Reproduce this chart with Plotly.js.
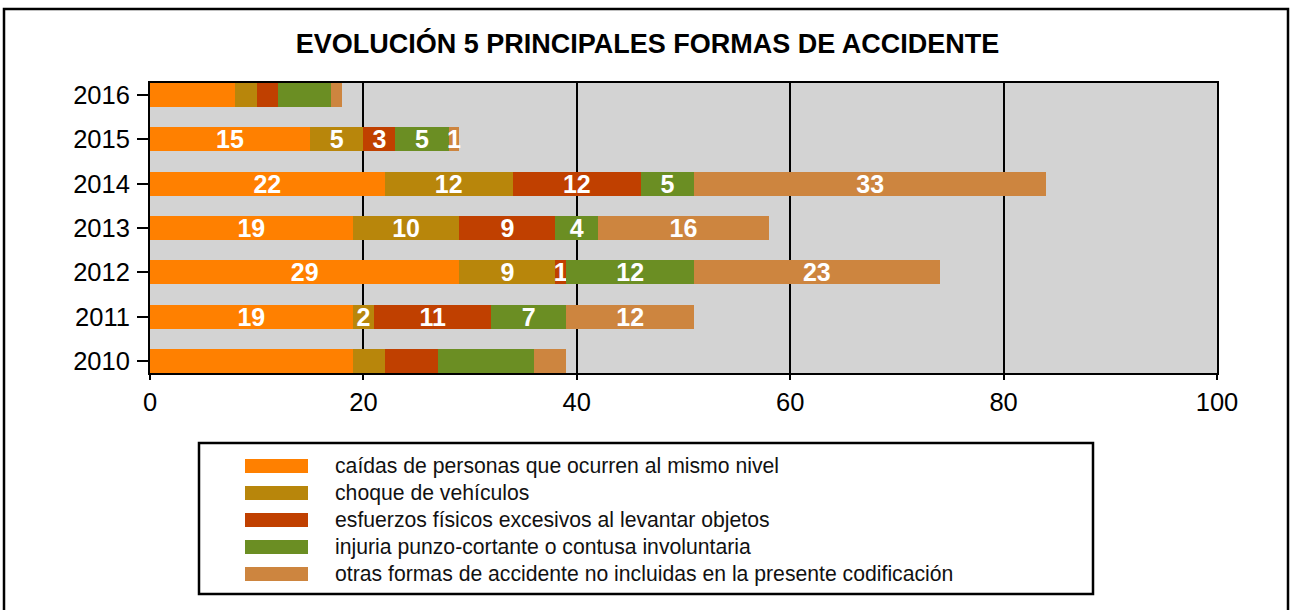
<!DOCTYPE html>
<html>
<head>
<meta charset="utf-8">
<script src="https://cdn.plot.ly/plotly-3.0.1.min.js"></script>
<style>html,body{margin:0;padding:0;background:#fff;}#chart{width:1290px;height:610px;}</style>
</head>
<body>
<div id="chart"></div>
<script>
const years = ['2010','2011','2012','2013','2014','2015','2016'];
const labeledYears = ['2011','2012','2013','2014','2015'];
const seriesNames = [
  'caídas de personas que ocurren al mismo nivel',
  'choque de vehículos',
  'esfuerzos físicos excesivos al levantar objetos',
  'injuria punzo-cortante o contusa involuntaria',
  'otras formas de accidente no incluidas en la presente codificación'
];
const seriesColors = ['#FF8000', '#B8860B', '#C04000', '#6B8E23', '#CD853F'];
const caidas     = [19, 19, 29, 19, 22, 15, 8];
const choque     = [3, 2, 9, 10, 12, 5, 2];
const esfuerzos  = [5, 11, 1, 9, 12, 3, 2];
const injuria    = [9, 7, 12, 4, 5, 5, 5];
const otras      = [3, 12, 23, 16, 33, 1, 1];
const xTicks = [0, 20, 40, 60, 80, 100];
const titleText = 'EVOLUCIÓN 5 PRINCIPALES FORMAS DE ACCIDENTE';

const seriesValues = [caidas, choque, esfuerzos, injuria, otras];
const FONT = 'Liberation Sans, Arial, Helvetica, sans-serif';

const W = 1290, H = 610;
const L = 150, R = 1217, T = 83, B = 373;
const px = x => (x - L) / (R - L);
const py = y => (B - y) / (B - T);

const traces = seriesValues.map((vals, k) => ({
  type: 'bar',
  orientation: 'h',
  name: seriesNames[k],
  y: years,
  x: vals,
  marker: {color: seriesColors[k], line: {width: 0}},
  text: vals.map((v, i) => labeledYears.includes(years[i]) ? String(v) : ''),
  textposition: 'inside',
  insidetextanchor: 'middle',
  textangle: 0,
  constraintext: 'none',
  textfont: {family: FONT, size: 25, color: '#FFFFFF', weight: 'bold'},
  hoverinfo: 'x+name',
  showlegend: false
}));

const shapes = [];
const annotations = [];
// outer frame
shapes.push({type: 'rect', xref: 'paper', yref: 'paper',
  x0: px(4), x1: px(1288), y0: py(9), y1: py(640),
  line: {color: '#000', width: 2.5}, fillcolor: 'rgba(0,0,0,0)', layer: 'below'});
// legend box
shapes.push({type: 'rect', xref: 'paper', yref: 'paper',
  x0: px(199), x1: px(1093), y0: py(443), y1: py(594),
  line: {color: '#000', width: 2.5}, fillcolor: 'rgba(0,0,0,0)'});
seriesNames.forEach((name, k) => {
  const cy = 466 + 27 * k;
  shapes.push({type: 'rect', xref: 'paper', yref: 'paper',
    x0: px(245), x1: px(308), y0: py(cy - 7), y1: py(cy + 7),
    line: {width: 0}, fillcolor: seriesColors[k]});
  annotations.push({xref: 'paper', yref: 'paper', x: px(333), y: py(cy),
    xanchor: 'left', yanchor: 'middle', showarrow: false, text: name,
    font: {family: FONT, size: 21.2, color: '#111'}});
});

const layout = {
  width: W, height: H,
  margin: {l: L, r: W - R, t: T, b: H - B, pad: 0},
  paper_bgcolor: '#FFFFFF',
  plot_bgcolor: '#D3D3D3',
  barmode: 'stack',
  bargap: 0.46,
  showlegend: false,
  title: {text: titleText, font: {family: FONT, size: 27, color: '#000', weight: 'bold'},
    xref: 'container', x: 0.502, xanchor: 'center', yref: 'container', y: 1 - 44 / H, yanchor: 'middle'},
  xaxis: {
    range: [0, 100], tickvals: xTicks, ticktext: xTicks.map(String),
    showgrid: true, gridcolor: '#000', gridwidth: 2, zeroline: false,
    showline: true, mirror: true, linecolor: '#000', linewidth: 2,
    ticks: 'outside', ticklen: 5, tickwidth: 2, tickcolor: '#000',
    tickfont: {family: FONT, size: 25.5, color: '#000'}, fixedrange: true
  },
  yaxis: {
    type: 'category', categoryorder: 'array', categoryarray: years,
    range: [-0.27, 6.27], showgrid: false, zeroline: false,
    showline: true, mirror: true, linecolor: '#000', linewidth: 2,
    ticks: 'outside', ticklen: 11, tickwidth: 2, tickcolor: '#000',
    ticklabelstandoff: 2,
    tickfont: {family: FONT, size: 25.5, color: '#000'}, fixedrange: true
  },
  shapes: shapes,
  annotations: annotations
};

Plotly.newPlot('chart', traces, layout, {displayModeBar: false, staticPlot: true});
</script>
</body>
</html>
